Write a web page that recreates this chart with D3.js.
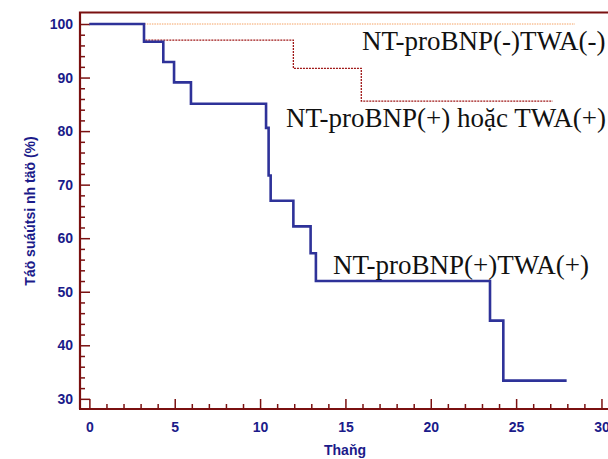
<html>
  <head>
    <meta charset="utf-8">
    <title>Kaplan-Meier</title>
    <script src="https://d3js.org/d3.v7.min.js"></script>
    <style>
      body { margin: 0; background: white; }
      svg { display: block; }
      .tick text { font-family: Arial, "Liberation Sans", sans-serif; font-weight: bold; font-size: 14px; fill: #1b1b8a; }
      .lbl { font-family: "Liberation Serif", "Times New Roman", serif; font-size: 27px; fill: #111; }
      .axt { font-family: Arial, "Liberation Sans", sans-serif; font-weight: bold; font-size: 14px; fill: #1b1b8a; }
    </style>
  </head>
  <body>
    <svg width="608" height="459"></svg>
    <script>
      // survival steps: [month, percent]
      var bothPos = [[0,100],[3.2,96.7],[4.33,92.9],[4.96,89.1],[5.95,85.1],[10.35,80.6],[10.5,71.7],
                     [10.62,67.0],[11.95,62.2],[12.96,57.2],[13.27,52.0],[23.47,44.6],[24.25,33.4],[27.96,33.4]];
      var onePos  = [[0,100],[3.2,97.0],[11.95,91.7],[15.93,85.6],[27.14,85.6]];
      var bothNeg = [[0,100],[28.45,100]];

      var xTicks = [0,5,10,15,20,25,30];
      var yTicks = [30,40,50,60,70,80,90,100];
      var labels = ["NT-proBNP(-)TWA(-)", "NT-proBNP(+) hoặc TWA(+)", "NT-proBNP(+)TWA(+)"];

      var svg = d3.select("svg");
      var axisColor = "#7a1010";

      var x = d3.scaleLinear().domain([-0.55, 30.5]).range([80, 610]);
      var y = d3.scaleLinear().domain([28.1, 102.15]).range([409, 12.5]);

      // minor ticks
      var xMinor = d3.range(1, 31).filter(function(d){ return d % 5 != 0; });
      var yMinor = d3.range(30, 101, 2).filter(function(d){ return d % 10 != 0; });

      svg.append("g").attr("transform", "translate(0,409)")
        .call(d3.axisTop(x).tickValues(xMinor).tickSize(5).tickFormat(""))
        .call(function(g){ g.select(".domain").remove(); g.selectAll("line").attr("stroke", axisColor).attr("stroke-width", 1.5); });
      svg.append("g").attr("transform", "translate(80,0)")
        .call(d3.axisRight(y).tickValues(yMinor).tickSize(5).tickFormat(""))
        .call(function(g){ g.select(".domain").remove(); g.selectAll("line").attr("stroke", axisColor).attr("stroke-width", 1.5); });

      // major ticks + labels
      var gx = svg.append("g").attr("transform", "translate(0,409)")
        .call(d3.axisTop(x).tickValues(xTicks).tickSize(10));
      gx.select(".domain").remove();
      gx.selectAll("line").attr("stroke", axisColor).attr("stroke-width", 1.5);
      gx.selectAll("text").attr("y", 23).attr("dy", 0);

      var gy = svg.append("g").attr("transform", "translate(80,0)")
        .call(d3.axisRight(y).tickValues(yTicks).tickSize(10));
      gy.select(".domain").remove();
      gy.selectAll("line").attr("stroke", axisColor).attr("stroke-width", 1.5);
      gy.selectAll("text").attr("x", -7).attr("text-anchor", "end");

      // frame
      svg.append("path")
        .attr("d", "M80,409V12.5H610 M79,409H610")
        .attr("fill", "none").attr("stroke", axisColor).attr("stroke-width", 2.2);

      var line = d3.line().x(function(d){ return x(d[0]); }).y(function(d){ return y(d[1]); }).curve(d3.curveStepAfter);

      svg.append("path").datum(bothNeg).attr("d", line)
        .attr("fill", "none").attr("stroke", "#f4a060").attr("stroke-width", 1).attr("stroke-dasharray", "1.5,1");
      svg.append("path").datum(onePos).attr("d", line)
        .attr("fill", "none").attr("stroke", "#a01818").attr("stroke-width", 1.3).attr("stroke-dasharray", "2,1");
      svg.append("path").datum(bothPos).attr("d", line)
        .attr("fill", "none").attr("stroke", "#2e3299").attr("stroke-width", 2.6);

      // curve labels
      svg.append("text").attr("class", "lbl").attr("x", 362).attr("y", 50).text(labels[0]);
      svg.append("text").attr("class", "lbl").attr("x", 286).attr("y", 127).text(labels[1]);
      svg.append("text").attr("class", "lbl").attr("x", 333).attr("y", 274).text(labels[2]);

      // axis titles
      svg.append("text").attr("class", "axt").attr("x", 345).attr("y", 455).attr("text-anchor", "middle").text("Thaňg");
      svg.append("text").attr("class", "axt").attr("text-anchor", "middle")
        .attr("transform", "translate(35,211) rotate(-90)").text("Táö suáútsi nh täö (%)");
    </script>
  </body>
</html>
